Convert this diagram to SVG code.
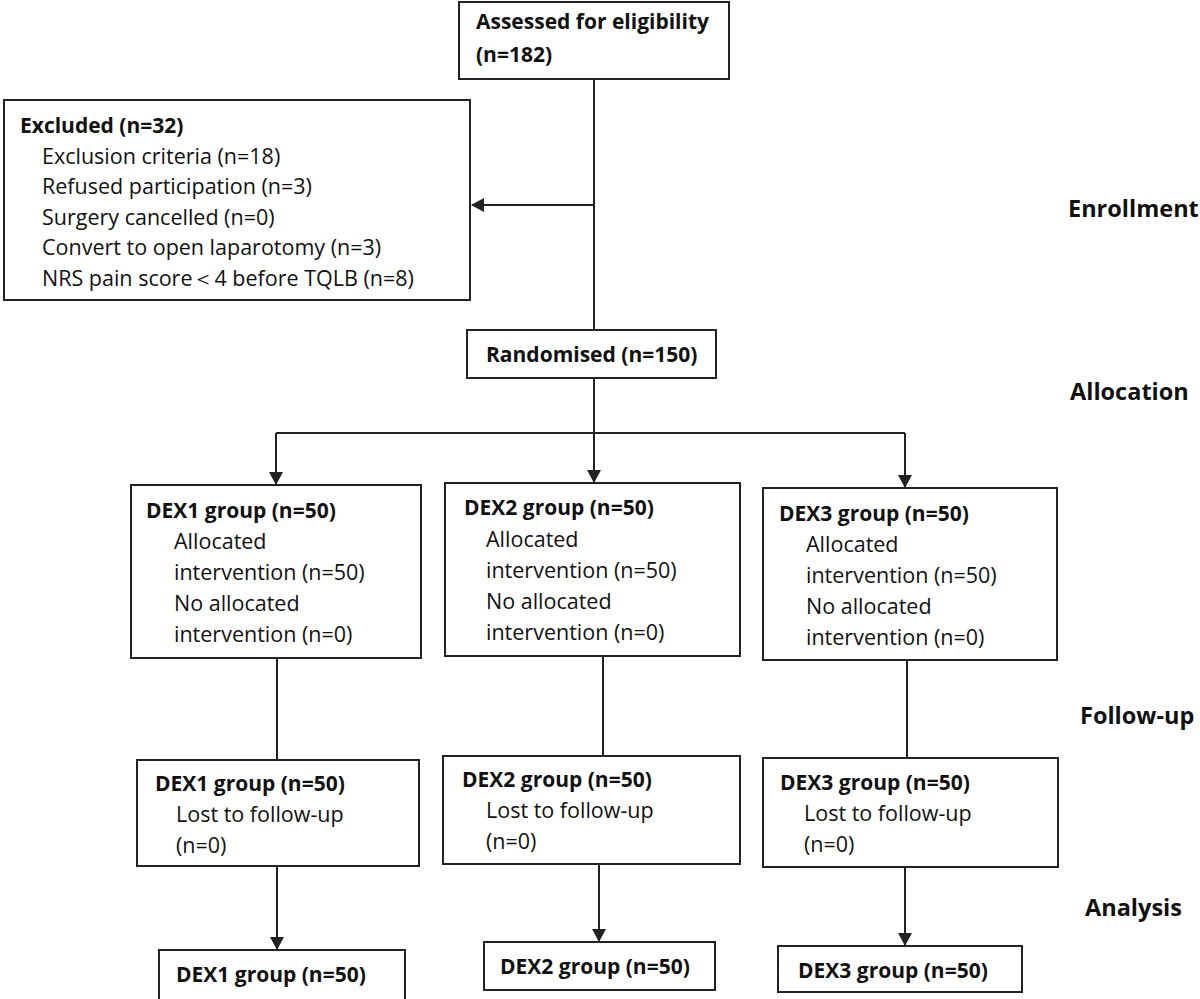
<svg xmlns="http://www.w3.org/2000/svg" width="1200" height="999" viewBox="0 0 1200 999">
<defs>
<marker id="ah" markerWidth="13" markerHeight="14" refX="12" refY="7" orient="auto" markerUnits="userSpaceOnUse"><path d="M0,0 L13,7 L0,14 z" fill="#222"/></marker>
<style>
rect{fill:#fff;stroke:#222;stroke-width:2}
text{font-family:"Open Sans","Liberation Sans",Arial,sans-serif;font-size:21.5px;fill:#111}
.b{font-weight:bold;font-size:21px}
.s{font-weight:bold;font-size:23.5px}
.c line,.c path{stroke:#222;stroke-width:2;fill:none}
</style>
</defs>
<rect width="1200" height="999" style="fill:#fff;stroke:none"/>
<g class="c">
<line x1="594" y1="79" x2="594" y2="330"/>
<line x1="594" y1="205" x2="472" y2="205" marker-end="url(#ah)"/>
<line x1="594" y1="378" x2="594" y2="433"/>
<line x1="276" y1="433" x2="905" y2="433"/>
<line x1="276" y1="433" x2="276" y2="484" marker-end="url(#ah)"/>
<line x1="594" y1="433" x2="594" y2="482" marker-end="url(#ah)"/>
<line x1="905" y1="433" x2="905" y2="487" marker-end="url(#ah)"/>
<line x1="277" y1="658" x2="277" y2="760"/>
<line x1="603" y1="656" x2="603" y2="756"/>
<line x1="907" y1="660" x2="907" y2="758"/>
<line x1="277" y1="866" x2="277" y2="949" marker-end="url(#ah)"/>
<line x1="599" y1="864" x2="599" y2="941" marker-end="url(#ah)"/>
<line x1="905" y1="867" x2="905" y2="945" marker-end="url(#ah)"/>
</g>
<g id="assessed"><rect x="459" y="2" width="270" height="77"/><text x="476" y="29" class="b">Assessed for eligibility</text><text x="476" y="62" class="b">(n=182)</text></g>
<g id="excluded"><rect x="4" y="100" width="466" height="200"/>
<text x="20" y="133" class="b">Excluded (n=32)</text>
<text x="42" y="164">Exclusion criteria (n=18)</text>
<text x="42" y="194">Refused participation (n=3)</text>
<text x="42" y="225">Surgery cancelled (n=0)</text>
<text x="42" y="255">Convert to open laparotomy (n=3)</text>
<text x="42" y="286">NRS pain score＜4 before TQLB (n=8)</text></g>
<g id="randomised"><rect x="467" y="330" width="249" height="48"/><text x="486" y="362" class="b">Randomised (n=150)</text></g>
<g id="dex1"><rect x="131" y="485" width="290" height="173"/>
<text x="146" y="518" class="b">DEX1 group (n=50)</text><text x="174" y="549">Allocated</text><text x="174" y="580">intervention (n=50)</text><text x="174" y="611">No allocated</text><text x="174" y="642">intervention (n=0)</text></g>
<g id="dex2"><rect x="445" y="483" width="295" height="173"/>
<text x="464" y="515" class="b">DEX2 group (n=50)</text><text x="486" y="547">Allocated</text><text x="486" y="578">intervention (n=50)</text><text x="486" y="609">No allocated</text><text x="486" y="640">intervention (n=0)</text></g>
<g id="dex3"><rect x="763" y="488" width="294" height="172"/>
<text x="779" y="521" class="b">DEX3 group (n=50)</text><text x="806" y="552">Allocated</text><text x="806" y="583">intervention (n=50)</text><text x="806" y="614">No allocated</text><text x="806" y="645">intervention (n=0)</text></g>
<g id="fu1"><rect x="137" y="760" width="282" height="106"/><text x="155" y="791" class="b">DEX1 group (n=50)</text><text x="176" y="822">Lost to follow-up</text><text x="176" y="853">(n=0)</text></g>
<g id="fu2"><rect x="443" y="756" width="297" height="108"/><text x="462" y="787" class="b">DEX2 group (n=50)</text><text x="486" y="818">Lost to follow-up</text><text x="486" y="849">(n=0)</text></g>
<g id="fu3"><rect x="763" y="758" width="295" height="109"/><text x="780" y="790" class="b">DEX3 group (n=50)</text><text x="804" y="821">Lost to follow-up</text><text x="804" y="852">(n=0)</text></g>
<g id="an1"><rect x="159" y="950" width="246" height="52"/><text x="176" y="982" class="b">DEX1 group (n=50)</text></g>
<g id="an2"><rect x="484" y="942" width="231" height="48"/><text x="500" y="974" class="b">DEX2 group (n=50)</text></g>
<g id="an3"><rect x="778" y="946" width="244" height="46"/><text x="798" y="978" class="b">DEX3 group (n=50)</text></g>
<g id="stages">
<text x="1068" y="217" class="s">Enrollment</text>
<text x="1070" y="400" class="s">Allocation</text>
<text x="1080" y="724" class="s">Follow-up</text>
<text x="1085" y="916" class="s">Analysis</text></g>
</svg>
